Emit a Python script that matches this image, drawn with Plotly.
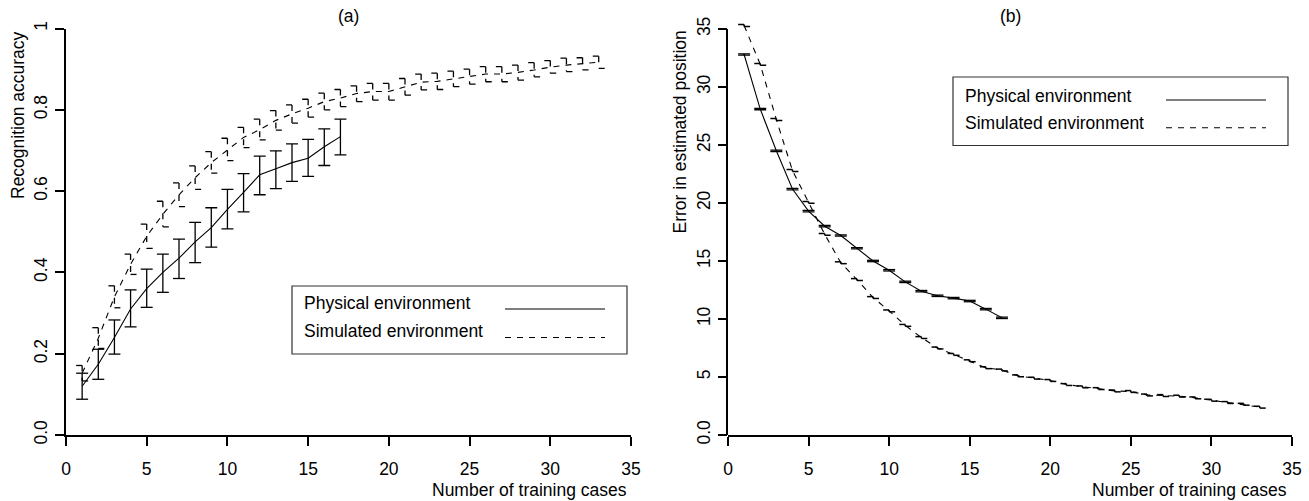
import plotly.graph_objects as go

# ---------------- data ----------------
# Panel (a): recognition accuracy
phys_x = list(range(1, 18))
phys_acc = [0.12, 0.174, 0.24, 0.31, 0.36, 0.40, 0.435, 0.475, 0.51, 0.555,
            0.597, 0.64, 0.655, 0.67, 0.681, 0.709, 0.734]
phys_acc_lo = [0.088, 0.137, 0.199, 0.266, 0.314, 0.351, 0.385, 0.424, 0.462, 0.507,
               0.549, 0.591, 0.606, 0.624, 0.636, 0.663, 0.689]
phys_acc_hi = [0.152, 0.211, 0.283, 0.357, 0.408, 0.445, 0.482, 0.523, 0.559, 0.604,
               0.643, 0.686, 0.699, 0.716, 0.727, 0.753, 0.777]

sim_x = list(range(1, 34))
sim_acc = [0.152, 0.238, 0.34, 0.42, 0.489, 0.543, 0.591, 0.633, 0.67, 0.702,
           0.732, 0.751, 0.774, 0.79, 0.804, 0.82, 0.829, 0.84, 0.845, 0.845,
           0.857, 0.868, 0.87, 0.876, 0.882, 0.888, 0.888, 0.892, 0.898, 0.905,
           0.91, 0.913, 0.917]
sim_acc_lo = [0.133, 0.213, 0.313, 0.395, 0.459, 0.512, 0.562, 0.604, 0.644, 0.675,
              0.707, 0.726, 0.750, 0.767, 0.782, 0.800, 0.808, 0.820, 0.824, 0.824,
              0.836, 0.849, 0.850, 0.857, 0.863, 0.869, 0.869, 0.873, 0.881, 0.890,
              0.894, 0.898, 0.902]
sim_acc_hi = [0.171, 0.264, 0.367, 0.445, 0.519, 0.575, 0.620, 0.662, 0.697, 0.730,
              0.757, 0.777, 0.798, 0.812, 0.826, 0.841, 0.850, 0.859, 0.865, 0.865,
              0.877, 0.888, 0.890, 0.895, 0.900, 0.906, 0.906, 0.910, 0.916, 0.921,
              0.927, 0.928, 0.932]

# Panel (b): error in estimated position
phys_err = [32.8, 28.1, 24.5, 21.2, 19.3, 18.0, 17.2, 16.1, 15.0, 14.2,
            13.2, 12.4, 12.0, 11.8, 11.55, 10.85, 10.1]
phys_err_sd = [0.06, 0.06, 0.06, 0.06, 0.06, 0.06, 0.06, 0.06, 0.06, 0.06,
               0.06, 0.06, 0.06, 0.06, 0.06, 0.06, 0.06]
sim_err = [35.3, 31.95, 27.2, 22.8, 20.05, 17.3, 14.85, 13.4, 11.85, 10.7,
           9.45, 8.4, 7.5, 6.95, 6.4, 5.8, 5.6, 5.1, 4.9, 4.7,
           4.35, 4.15, 4.0, 3.8, 3.75, 3.45, 3.4, 3.35, 3.2, 3.0,
           2.8, 2.65, 2.4]
sim_err_sd = [0.08] * 33

x_ticks = [0, 5, 10, 15, 20, 25, 30, 35]
x_ticktext = ["0", "5", "10", "15", "20", "25", "30", "35"]
ya_ticks = [0, 0.2, 0.4, 0.6, 0.8, 1.0]
ya_ticktext = ["0.0", "0.2", "0.4", "0.6", "0.8", "1"]
yb_ticks = [0, 5, 10, 15, 20, 25, 30, 35]
yb_ticktext = ["0.0", "5", "10", "15", "20", "25", "30", "35"]

legend_labels = ["Physical environment", "Simulated environment"]

# ---------------- helpers ----------------
W, H = 1309, 501
FONT = "Liberation Sans, Arial, Helvetica, sans-serif"
FS = 17.5
DASH = "6px,6px"


def px(x):
    return x / W


def py(y):
    return 1 - y / H


def ebar(xs, lo, hi, w):
    X, Y = [], []
    for x, l, h in zip(xs, lo, hi):
        X += [x, x, None]
        Y += [h, l, None]
        X += [x - w, x + w, None]
        Y += [h, h, None]
        X += [x + w, x - w, None]
        Y += [l, l, None]
    return X, Y


CAPW = 0.37

fig = go.Figure()

# ---- panel (a)
ex, ey = ebar(phys_x, phys_acc_lo, phys_acc_hi, CAPW)
fig.add_trace(go.Scatter(x=ex, y=ey, mode="lines", xaxis="x", yaxis="y",
                         line=dict(color="black", width=1.3), hoverinfo="skip"))
fig.add_trace(go.Scatter(x=phys_x, y=phys_acc, mode="lines", xaxis="x", yaxis="y",
                         line=dict(color="black", width=1.1), name=legend_labels[0]))
ex, ey = ebar(sim_x, sim_acc_lo, sim_acc_hi, CAPW)
fig.add_trace(go.Scatter(x=ex, y=ey, mode="lines", xaxis="x", yaxis="y",
                         line=dict(color="black", width=1.3, dash=DASH), hoverinfo="skip"))
fig.add_trace(go.Scatter(x=sim_x, y=sim_acc, mode="lines", xaxis="x", yaxis="y",
                         line=dict(color="black", width=1.1, dash=DASH), name=legend_labels[1]))

# ---- panel (b)
lo = [m - s for m, s in zip(phys_err, phys_err_sd)]
hi = [m + s for m, s in zip(phys_err, phys_err_sd)]
ex, ey = ebar(phys_x, lo, hi, CAPW)
fig.add_trace(go.Scatter(x=ex, y=ey, mode="lines", xaxis="x2", yaxis="y2",
                         line=dict(color="black", width=1.3), hoverinfo="skip"))
fig.add_trace(go.Scatter(x=phys_x, y=phys_err, mode="lines", xaxis="x2", yaxis="y2",
                         line=dict(color="black", width=1.1), name=legend_labels[0]))
lo = [m - s for m, s in zip(sim_err, sim_err_sd)]
hi = [m + s for m, s in zip(sim_err, sim_err_sd)]
ex, ey = ebar(sim_x, lo, hi, CAPW)
fig.add_trace(go.Scatter(x=ex, y=ey, mode="lines", xaxis="x2", yaxis="y2",
                         line=dict(color="black", width=1.5, dash=DASH), hoverinfo="skip"))
fig.add_trace(go.Scatter(x=sim_x, y=sim_err, mode="lines", xaxis="x2", yaxis="y2",
                         line=dict(color="black", width=1.1, dash=DASH), name=legend_labels[1]))

axis_common = dict(showgrid=False, zeroline=False, ticks="outside", ticklen=9,
                   tickwidth=2, tickcolor="black", linecolor="black", linewidth=2,
                   automargin=False, tickfont=dict(family=FONT, size=FS, color="black"))

fig.update_layout(
    width=W, height=H,
    margin=dict(l=0, r=0, t=0, b=0),
    paper_bgcolor="white", plot_bgcolor="white",
    showlegend=False,
    font=dict(family=FONT, size=FS, color="black"),
    xaxis=dict(domain=[px(66), px(631)], range=[0, 35], anchor="y",
               tickvals=x_ticks, ticktext=x_ticktext, showline=True,
               ticklabelstandoff=8, **axis_common),
    yaxis=dict(domain=[py(435), py(28.5)], range=[0, 1], anchor="x",
               tickvals=ya_ticks, ticktext=ya_ticktext, showline=True,
               tickangle=-90, ticklabelstandoff=1, **axis_common),
    xaxis2=dict(domain=[px(728), px(1292)], range=[0, 35], anchor="y2",
                tickvals=x_ticks, ticktext=x_ticktext, showline=True,
                ticklabelstandoff=8, **axis_common),
    yaxis2=dict(domain=[py(435), py(17.4)], range=[0, 36], anchor="x2",
                tickvals=yb_ticks, ticktext=yb_ticktext, showline=False,
                tickangle=-90, ticklabelstandoff=1, **axis_common),
)

shapes = []
# y-axis line for panel (b), from 0 to 35 only
shapes.append(dict(type="line", xref="paper", yref="y2", x0=px(727), x1=px(727),
                   y0=0, y1=35, line=dict(color="black", width=2)))

annotations = []
# titles
annotations.append(dict(text="(a)", x=px(348.5), y=py(15.5), xref="paper", yref="paper",
                        showarrow=False, xanchor="center", yanchor="middle",
                        font=dict(size=FS)))
annotations.append(dict(text="(b)", x=px(1010), y=py(15.5), xref="paper", yref="paper",
                        showarrow=False, xanchor="center", yanchor="middle",
                        font=dict(size=FS)))
# axis titles
annotations.append(dict(text="Recognition accuracy", x=px(18), y=py(29), xref="paper",
                        yref="paper", showarrow=False, textangle=-90,
                        xanchor="center", yanchor="top", font=dict(size=FS)))
annotations.append(dict(text="Error in estimated position", x=px(679), y=py(29),
                        xref="paper", yref="paper", showarrow=False, textangle=-90,
                        xanchor="center", yanchor="top", font=dict(size=FS)))
annotations.append(dict(text="Number of training cases", x=px(629), y=py(490),
                        xref="paper", yref="paper", showarrow=False,
                        xanchor="right", yanchor="middle", font=dict(size=FS)))
annotations.append(dict(text="Number of training cases", x=px(1289), y=py(490),
                        xref="paper", yref="paper", showarrow=False,
                        xanchor="right", yanchor="middle", font=dict(size=FS)))

# legends
legend_boxes = [
    dict(x0=292, x1=627, y0=286, y1=354, tx=302, rows=[303, 331], lx0=505, lx1=605, ly=[309, 337.5]),
    dict(x0=953, x1=1288, y0=77, y1=145.5, tx=963, rows=[96, 123.5], lx0=1166, lx1=1266, ly=[100, 127.7]),
]
for b in legend_boxes:
    shapes.append(dict(type="rect", xref="paper", yref="paper",
                       x0=px(b["x0"]), x1=px(b["x1"]), y0=py(b["y1"]), y1=py(b["y0"]),
                       line=dict(color="#333333", width=1.2), fillcolor="white", layer="above"))
    for i, lab in enumerate(legend_labels):
        annotations.append(dict(text=lab, x=px(b["tx"]), y=py(b["rows"][i]),
                                xref="paper", yref="paper", showarrow=False,
                                xanchor="left", yanchor="middle", font=dict(size=FS)))
        shapes.append(dict(type="line", xref="paper", yref="paper",
                           x0=px(b["lx0"]), x1=px(b["lx1"]),
                           y0=py(b["ly"][i]), y1=py(b["ly"][i]),
                           line=dict(color="black", width=1.1,
                                     dash=None if i == 0 else DASH)))

fig.update_layout(shapes=shapes, annotations=annotations)

fig.write_html("out.html", config={"displayModeBar": False},
               post_script="document.body.style.margin='0';document.body.style.padding='0';")
